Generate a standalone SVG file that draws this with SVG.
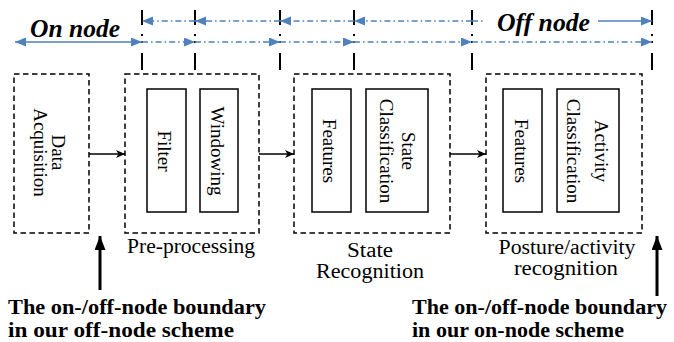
<svg xmlns="http://www.w3.org/2000/svg" width="674" height="342" viewBox="0 0 674 342">
<defs>
<style>
.dbox{fill:none;stroke:#000;stroke-width:1.5;stroke-dasharray:5.5 3.5}
.sbox{fill:#fff;stroke:#000;stroke-width:1.5}
.tick{fill:none;stroke:#000;stroke-width:2;stroke-dasharray:15 9 2 5 2 10 17}
.bdash{fill:none;stroke:#4F81BD;stroke-width:1.3;stroke-dasharray:6 3 1.6 3}
.bsolid{fill:none;stroke:#4F81BD;stroke-width:1.5}
.flow{fill:none;stroke:#000;stroke-width:1.6}
.up{fill:none;stroke:#000;stroke-width:3}
.rt{font-family:"Liberation Serif","Times New Roman",serif;font-size:19px;fill:#000;text-anchor:middle}
.lbl{font-family:"Liberation Serif","Times New Roman",serif;font-size:20px;fill:#000;text-anchor:middle}
.bold{font-family:"Liberation Serif","Times New Roman",serif;font-size:20px;font-weight:bold;fill:#000}
.bi{font-family:"Liberation Serif","Times New Roman",serif;font-size:25px;font-weight:bold;font-style:italic;fill:#000}
</style>
<marker id="ba" markerUnits="userSpaceOnUse" markerWidth="12" markerHeight="10" refX="11" refY="4.5" orient="auto-start-reverse">
<path d="M0,0 L11,4.5 L0,9 Z" fill="#4F81BD"/>
</marker>
<marker id="ka" markerUnits="userSpaceOnUse" markerWidth="10" markerHeight="9" refX="9" refY="4" orient="auto">
<path d="M0,0 L9,4 L0,8 L2.5,4 Z" fill="#000"/>
</marker>
<marker id="ua" markerUnits="userSpaceOnUse" markerWidth="15" markerHeight="12" refX="14" refY="5.5" orient="auto">
<path d="M0,0 L14,5.5 L0,11 Z" fill="#000"/>
</marker>
</defs>

<g id="scale">
<path class="tick" d="M142,10 V70 M195,10 V70 M280,10 V70 M354,10 V70 M472,10 V70 M652,10 V70"/>
<g id="off-node-row">
<line class="bdash" x1="195" y1="21" x2="142" y2="21" marker-end="url(#ba)"/>
<line class="bdash" x1="280" y1="21" x2="195" y2="21" marker-end="url(#ba)"/>
<line class="bdash" x1="354" y1="21" x2="280" y2="21" marker-end="url(#ba)"/>
<line class="bdash" x1="472" y1="21" x2="354" y2="21" marker-end="url(#ba)"/>
<line class="bdash" x1="472" y1="21" x2="484" y2="21"/>
<line class="bsolid" x1="598" y1="21" x2="652" y2="21" marker-end="url(#ba)"/>
<text class="bi" x="497" y="31" textLength="93" lengthAdjust="spacingAndGlyphs">Off node</text>
</g>
<g id="on-node-row">
<line class="bsolid" x1="15" y1="42" x2="142" y2="42" marker-start="url(#ba)" marker-end="url(#ba)"/>
<line class="bdash" x1="142" y1="42" x2="195" y2="42" marker-end="url(#ba)"/>
<line class="bdash" x1="195" y1="42" x2="280" y2="42" marker-end="url(#ba)"/>
<line class="bdash" x1="280" y1="42" x2="354" y2="42" marker-end="url(#ba)"/>
<line class="bdash" x1="354" y1="42" x2="472" y2="42" marker-end="url(#ba)"/>
<line class="bdash" x1="472" y1="42" x2="652" y2="42" marker-end="url(#ba)"/>
<text class="bi" x="30" y="37" textLength="90" lengthAdjust="spacingAndGlyphs">On node</text>
</g>
</g>

<g id="data-acquisition">
<rect class="dbox" x="14" y="74" width="75" height="159"/>
<text class="rt" transform="translate(51.5,152.5) rotate(90)">Data</text>
<text class="rt" transform="translate(34,152.5) rotate(90)">Acquisition</text>
</g>

<g id="pre-processing">
<rect class="dbox" x="125" y="74" width="134" height="159"/>
<g id="filter">
<rect class="sbox" x="147" y="89" width="39" height="123"/>
<text class="rt" transform="translate(158,151) rotate(90)">Filter</text>
</g>
<g id="windowing">
<rect class="sbox" x="200" y="89" width="38" height="123"/>
<text class="rt" transform="translate(210.5,151) rotate(90)">Windowing</text>
</g>
<text class="lbl" x="191" y="253" textLength="128" lengthAdjust="spacingAndGlyphs">Pre-processing</text>
</g>

<g id="state-recognition">
<rect class="dbox" x="294" y="74" width="156" height="159"/>
<g id="state-features">
<rect class="sbox" x="312" y="89" width="39" height="123"/>
<text class="rt" transform="translate(323,151) rotate(90)">Features</text>
</g>
<g id="state-classification">
<rect class="sbox" x="366" y="89" width="62" height="123"/>
<text class="rt" transform="translate(402,151) rotate(90)">State</text>
<text class="rt" transform="translate(379.5,151) rotate(90)">Classification</text>
</g>
<text class="lbl" x="370" y="257" textLength="46" lengthAdjust="spacingAndGlyphs">State</text>
<text class="lbl" x="370" y="278" textLength="108" lengthAdjust="spacingAndGlyphs">Recognition</text>
</g>

<g id="activity-recognition">
<rect class="dbox" x="486" y="74" width="156" height="159"/>
<g id="activity-features">
<rect class="sbox" x="503" y="89" width="39" height="123"/>
<text class="rt" transform="translate(515,151) rotate(90)">Features</text>
</g>
<g id="activity-classification">
<rect class="sbox" x="557" y="89" width="62" height="123"/>
<text class="rt" transform="translate(594.5,151) rotate(90)">Activity</text>
<text class="rt" transform="translate(567,151) rotate(90)">Classification</text>
</g>
<text class="lbl" x="567" y="254" textLength="137" lengthAdjust="spacingAndGlyphs">Posture/activity</text>
<text class="lbl" x="566" y="275" textLength="104" lengthAdjust="spacingAndGlyphs">recognition</text>
</g>

<g id="connectors">
<line class="flow" x1="89" y1="154" x2="125" y2="154" marker-end="url(#ka)"/>
<line class="flow" x1="259" y1="154" x2="294" y2="154" marker-end="url(#ka)"/>
<line class="flow" x1="450" y1="154" x2="486" y2="154" marker-end="url(#ka)"/>
<line class="up" x1="100" y1="290" x2="100" y2="236" marker-end="url(#ua)"/>
<line class="up" x1="657" y1="296" x2="657" y2="236" marker-end="url(#ua)"/>
</g>

<g id="boundary-labels">
<text class="bold" x="8" y="314" textLength="258" lengthAdjust="spacingAndGlyphs">The on-/off-node boundary</text>
<text class="bold" x="8" y="337" textLength="226" lengthAdjust="spacingAndGlyphs">in our off-node scheme</text>
<text class="bold" x="412" y="314" textLength="255" lengthAdjust="spacingAndGlyphs">The on-/off-node boundary</text>
<text class="bold" x="412" y="337" textLength="212" lengthAdjust="spacingAndGlyphs">in our on-node scheme</text>
</g>
</svg>
